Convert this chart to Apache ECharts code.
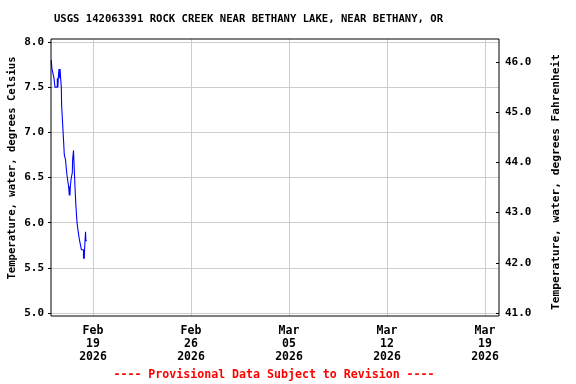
<!DOCTYPE html>
<html>
<head>
<meta charset="utf-8">
<script src="https://cdn.jsdelivr.net/npm/echarts@6/dist/echarts.min.js"></script>
<style>html,body{margin:0;padding:0;background:#fff;}#c{width:576px;height:384px;}</style>
</head>
<body>
<div id="c"></div>
<script>
// Hours since 2026-02-16 00:00 (local) and water temperature (deg C)
const hours = [0.3, 1.7, 5.1, 6.8, 10.8, 11.8, 12.5, 13.7, 15.0, 15.5, 16.5, 17.7, 18.2, 19.9, 21.6, 22.8, 24.8, 26.2, 27.9, 30.2, 31.4, 32.0, 32.5, 33.1, 34.8, 36.5, 37.1, 38.6, 39.2, 41.1, 42.6, 44.6, 46.6, 49.0, 52.2, 55.7, 56.5, 57.0, 57.5, 59.2, 59.8, 61.5];
const tempC = [7.8, 7.7, 7.6, 7.5, 7.6, 7.5, 7.6, 7.7, 7.6, 7.7, 7.6, 7.5, 7.3, 7.1, 6.9, 6.75, 6.7, 6.6, 6.5, 6.4, 6.3, 6.4, 6.3, 6.4, 6.5, 6.55, 6.7, 6.8, 6.7, 6.4, 6.2, 6.0, 5.9, 5.8, 5.7, 5.6, 5.7, 5.6, 5.7, 5.9, 5.8, 5.8];
const xTickLabels = ['Feb\n19\n2026', 'Feb\n26\n2026', 'Mar\n05\n2026', 'Mar\n12\n2026', 'Mar\n19\n2026'];
const fahrenheitTicks = [41, 42, 43, 44, 45, 46];
const titleText = 'USGS 142063391 ROCK CREEK NEAR BETHANY LAKE, NEAR BETHANY, OR';
const leftName = 'Temperature, water, degrees Celsius';
const rightName = 'Temperature, water, degrees Fahrenheit';
const footerText = '---- Provisional Data Subject to Revision ----';

const FONT = '"DejaVu Sans Mono", monospace';
const chart = echarts.init(document.getElementById('c'), null, {renderer: 'canvas'});
const seriesData = hours.map((h, i) => [h, tempC[i]]);

chart.setOption({
  animation: false,
  backgroundColor: '#fff',
  grid: [
    {left: 51, right: 77, top: 39, bottom: 68, show: true, borderColor: '#000', borderWidth: 1, backgroundColor: 'transparent', z: 5},
    {left: 51, right: 77, top: 42, bottom: 71},
    {left: 93, width: 392, top: 39, bottom: 68}
  ],
  xAxis: [
    {gridIndex: 0, type: 'value', min: 0, max: 1, show: false},
    {gridIndex: 1, type: 'value', min: 0, max: 768, show: false},
    {gridIndex: 2, type: 'value', min: 0, max: 28, interval: 7,
     axisLine: {show: false}, axisTick: {show: false},
     splitLine: {show: true, lineStyle: {color: '#cccccc', width: 1}},
     axisLabel: {margin: 9, fontFamily: FONT, fontWeight: 'bold', fontSize: 11.5, color: '#000', lineHeight: 13,
       formatter: v => xTickLabels[Math.round(v / 7)]}}
  ],
  yAxis: [
    {gridIndex: 0, type: 'value', min: 0, max: 1, show: false},
    {gridIndex: 1, type: 'value', min: 5, max: 8, interval: 0.5, position: 'left',
     axisLine: {show: false},
     axisTick: {show: true, length: 3, inside: false, lineStyle: {color: '#000'}},
     splitLine: {show: true, lineStyle: {color: '#cccccc', width: 1}},
     axisLabel: {margin: 7, fontFamily: FONT, fontWeight: 'bold', fontSize: 11, color: '#000',
       formatter: v => v.toFixed(1)}},
    {gridIndex: 1, type: 'value', min: 41, max: 46.4, position: 'right',
     axisLine: {show: false},
     axisTick: {show: true, length: 3, inside: true, lineStyle: {color: '#000'}, customValues: fahrenheitTicks},
     splitLine: {show: false},
     axisLabel: {margin: 6, fontFamily: FONT, fontWeight: 'bold', fontSize: 11, color: '#000',
       customValues: fahrenheitTicks,
       formatter: v => (Math.abs(v - Math.round(v)) < 1e-6 ? v.toFixed(1) : '')}},
    {gridIndex: 2, type: 'value', min: 0, max: 1, show: false}
  ],
  series: [{
    type: 'line',
    xAxisIndex: 1, yAxisIndex: 1,
    data: seriesData,
    step: 'end',
    showSymbol: false,
    symbol: 'none',
    lineStyle: {color: '#0000ff', width: 1.1},
    z: 3
  }],
  graphic: [
    {type: 'text', x: 248.5, y: 19, style: {text: titleText, fill: '#000', font: 'bold 10.6px ' + FONT, textAlign: 'center', textVerticalAlign: 'middle'}},
    {type: 'text', x: 12, y: 168, rotation: Math.PI / 2, style: {text: leftName, fill: '#000', font: 'bold 10.6px ' + FONT, textAlign: 'center', textVerticalAlign: 'middle'}},
    {type: 'text', x: 556, y: 182, rotation: Math.PI / 2, style: {text: rightName, fill: '#000', font: 'bold 11.2px ' + FONT, textAlign: 'center', textVerticalAlign: 'middle'}},
    {type: 'text', x: 274, y: 375, style: {text: footerText, fill: '#ff0000', font: 'bold 11.6px ' + FONT, textAlign: 'center', textVerticalAlign: 'middle'}}
  ]
});
</script>
</body>
</html>
